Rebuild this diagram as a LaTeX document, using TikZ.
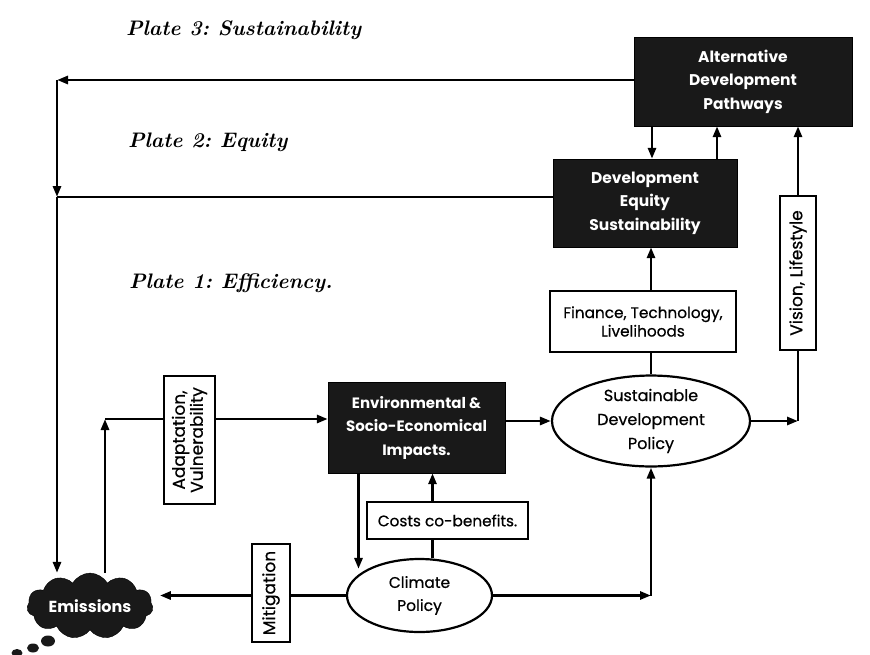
\documentclass[tikz,border=0pt]{standalone}
\usepackage{fontspec}
\newfontfamily\boxfont{Poppins}
\newfontfamily\medfont{Poppins}[FakeBold=0.6]
\usetikzlibrary{shapes.geometric,shapes.symbols,arrows.meta}
\frenchspacing
\begin{document}
\begin{tikzpicture}[x=1pt,y=-1pt,
  line/.style={line width=2.8pt},
  arr/.style={line width=2.8pt,-{Triangle[length=11pt,width=8pt]}},
  darkbox/.style={rectangle,draw=black,fill=black!90,text=white,align=center,inner sep=0pt,
    font=\boxfont\bfseries\fontsize{15.5}{23.5}\selectfont},
  lightbox/.style={rectangle,draw=black,line width=2pt,fill=white,align=center,inner sep=0pt,
    font=\medfont\fontsize{15.3}{18.5}\selectfont},
  sidebox/.style={lightbox,rotate=90,font=\medfont\fontsize{17}{18}\selectfont},
  oval/.style={ellipse,draw=black,line width=2.2pt,fill=white,align=center,inner sep=0pt,
    font=\medfont\fontsize{16}{24}\selectfont},
  plate/.style={anchor=west,inner sep=0pt,font=\bfseries\itshape\fontsize{21}{22}\selectfont}]
\useasboundingbox[fill=white] (0,0) rectangle (870,654);

% plate labels
\node[plate] (p3) at (126,30) {Plate 3: Sustainability};
\node[plate] (p2) at (128,142) {Plate 2: Equity};
\node[plate] (p1) at (129,283) {Plate 1: Efficiency.};

% main nodes
\node[darkbox,minimum width=218pt,minimum height=89pt] (ADP) at (743,81.5)
  {Alternative\\Development\\Pathways};
\node[darkbox,minimum width=184pt,minimum height=88pt] (DES) at (645,203)
  {Development\\Equity\\Sustainability};
\node[lightbox,minimum width=186pt,minimum height=61pt] (fin) at (643,321.5)
  {Finance, Technology,\\Livelihoods};
\node[oval,minimum width=198pt,minimum height=88pt] (SDP) at (651,421)
  {Sustainable\\Development\\Policy};
\node[darkbox,minimum width=177pt,minimum height=91pt,font=\boxfont\bfseries\fontsize{15}{23.5}\selectfont] (ESI) at (416.5,427.5)
  {Environmental \&\\Socio-Economical\\Impacts.};
\node[lightbox,minimum width=161pt,minimum height=37pt] (costs) at (447.5,520.5)
  {Costs co-benefits.};
\node[oval,minimum width=145pt,minimum height=73pt,font=\medfont\fontsize{15.5}{23}\selectfont] (CP) at (419.5,595.5)
  {Climate\\Policy};
\node[sidebox,minimum width=154pt,minimum height=36pt] (vis) at (798,273)
  {Vision, Lifestyle};
\node[cloud,cloud puffs=11,cloud puff arc=120,aspect=2.4,draw=black,fill=black!90,text=white,
  minimum width=126pt,minimum height=53pt,inner sep=0pt,font=\boxfont\bfseries\fontsize{16}{18}\selectfont]
  (emis) at (90,606) {Emissions};
\fill[black!90] (48,641) ellipse [x radius=7pt,y radius=5.5pt];
\fill[black!90] (33,648) ellipse [x radius=6pt,y radius=4.5pt];
\fill[black!90] (17,653) ellipse [x radius=5.5pt,y radius=4pt];

% coordinates
\coordinate (c1) at (57,80);
\coordinate (c2) at (57,197);
\coordinate (c5) at (105,419);

% top feedback lines
\draw[arr] (ADP.west |- c1) -- (c1);
\draw[arr] (c1) -- (c2);
\draw[line] (DES.west |- c2) -- (c2);
\draw[arr] (c2) -- (c2 |- emis.north);

% ADP <-> DES
\draw[arr] ([xshift=7pt]DES.north |- ADP.south) -- ([xshift=7pt]DES.north);
\draw[arr] ([xshift=72pt]DES.north) -- ([xshift=72pt]DES.north |- ADP.south);

% vision
\draw[arr] (vis.east) -- (vis.east |- ADP.south);
\coordinate (c3) at (vis.west |- SDP.east);
\draw[arr] (SDP.east) -- (c3);
\draw[line] (c3) -- (vis.west);

% SDP -> finance -> DES
\draw[line] (SDP.north) -- (SDP.north |- fin.south);
\draw[arr] (SDP.north |- fin.north) -- (SDP.north |- DES.south);

% ESI -> SDP
\draw[arr] (ESI.east |- SDP.west) -- (SDP.west);

% costs
\draw[arr] ([xshift=-15pt]costs.north) -- ([xshift=-15pt]costs.north |- ESI.south);
\draw[line] ([xshift=-15pt]costs.south) -- ([xshift=-15pt]costs.south |- CP.north);

% ESI -> CP
\draw[arr] ([xshift=-58pt]ESI.south) -- ([xshift=-58pt]ESI.south |- CP.north west);

% CP -> SDP
\coordinate (c4) at (SDP.south |- CP.east);
\draw[arr] (CP.east) -- (c4);
\draw[arr] (c4) -- (SDP.south);

% CP -> emissions (mitigation)
\draw[arr] (CP.west) -- ([xshift=7pt]emis.east |- CP.west);

% emissions -> ESI (adaptation)
\draw[arr] (c5 |- emis.north) -- (c5);
\draw[arr] (c5) -- (c5 -| ESI.west);

% label boxes on lines
\node[sidebox,minimum width=98pt,minimum height=38pt] (mit) at (271,593) {Mitigation};
\node[sidebox,minimum width=128pt,minimum height=51pt] (adapt) at (189.5,440)
  {Adaptation,\\Vulnerability};
\end{tikzpicture}
\end{document}
